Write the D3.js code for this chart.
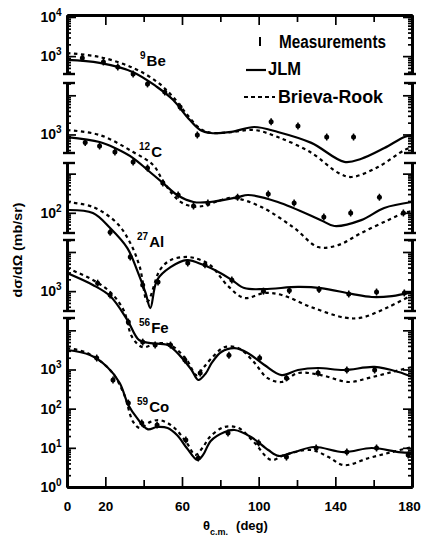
<!DOCTYPE html>
<html>
<head>
<meta charset="utf-8">
<script src="https://cdnjs.cloudflare.com/ajax/libs/d3/7.8.5/d3.min.js"></script>
<style>
  body { margin: 0; background: #fff; }
  svg { display: block; font-family: "Liberation Sans", Arial, sans-serif; font-weight: bold; }
</style>
</head>
<body>
<div id="chart"></div>
<script>
// angle in deg (c.m.), cross section in mb/sr; each nucleus is drawn shifted by 10^shift
const nuclei = ["Be", "C", "Al", "Fe", "Co"];
const massNumbers = ["9", "12", "27", "56", "59"];
const decadeShift = [8, 6, 5, 2, 0];
const axisLabels = [[1e3, 1e4], [1e3], [1e2], [1e3], [1, 10, 100, 1000]];
const xLabels = [0, 20, 60, 100, 140, 180];
const xMinor = [40, 80, 120, 160];

// 9Be
const beJlmDeg = [0, 17, 34.5, 47, 55.4, 62.7, 69.5, 75, 85.7, 97.7, 110, 127.5, 144.7, 153.6, 165.6, 176, 180];
const beJlmVal = [800, 670, 390, 163, 76, 28, 13, 10.9, 11.6, 15.5, 11.6, 6.1, 2.0, 2.4, 4.5, 8.6, 9.7];
const beBrDeg = [0, 17, 34.5, 47, 55.4, 62.7, 69.5, 75, 85.7, 97.7, 110, 127.5, 141.6, 148.4, 162.5, 176, 180];
const beBrVal = [1200, 950, 500, 220, 90, 32, 14, 11, 11.5, 13, 8.6, 3.4, 1.04, 0.82, 1.5, 4.0, 4.8];
const beExpDeg = [8, 19, 26.5, 34.5, 42, 51, 59, 68, 106.5, 120.5, 135.5, 149.5];
const beExpVal = [900, 710, 530, 350, 195, 121, 50, 9.7, 21, 16.4, 8.6, 8.6];

// 12C
const cJlmDeg = [0, 17, 25, 34.5, 42, 50, 57.5, 66, 74.5, 89, 94.5, 110, 132.5, 139.5, 153.5, 165.5, 180];
const cJlmVal = [860, 640, 450, 250, 124, 58, 28.5, 18.9, 18.9, 25, 28.5, 18.9, 6.5, 4.6, 6.5, 13.3, 18.9];
const cBrDeg = [0, 17, 34.5, 45, 50, 55, 60, 66, 72, 80, 87, 101.5, 118.5, 131, 141.5, 153.5, 167.5, 176, 180];
const cBrVal = [1300, 970, 357, 165, 66, 30, 18, 14.5, 15.2, 21, 24, 14, 4.1, 1.34, 1.5, 3.05, 6.5, 9.9, 11.1];
const cExpDeg = [9.5, 17, 25, 34.5, 42, 50, 58, 66, 73.5, 89, 105, 118.5, 134, 148, 163, 175.5];
const cExpVal = [620, 508, 357, 198, 139, 58, 28.5, 14.9, 17.8, 25, 30, 17.8, 7.8, 9.9, 25, 9.9];

// 27Al
const alJlmDeg = [0, 13.5, 22.5, 31.5, 36.5, 41, 43.5, 47, 54, 62.5, 71, 80, 86, 92.5, 103, 120.5, 132.5, 148.5, 159, 169.5, 180];
const alJlmVal = [118, 99, 41, 12.6, 3.5, 0.9, 0.37, 1.93, 4.1, 6.2, 4.7, 2.9, 1.93, 1.2, 1.13, 1.28, 1.2, 0.85, 0.71, 0.75, 0.95];
const alBrDeg = [0, 13.5, 26, 33, 38, 42, 48.5, 54, 60.5, 66, 74.5, 84, 92.5, 103, 112, 127.5, 145, 153.5, 167.5, 180];
const alBrVal = [189, 141, 55, 17, 4.1, 0.55, 3.5, 6.2, 7.4, 7.1, 4.7, 1.35, 0.67, 0.9, 0.8, 0.39, 0.21, 0.21, 0.39, 0.8];
const alExpDeg = [22.5, 33, 39.5, 47.5, 63, 72, 86, 102.5, 116, 131.5, 147, 161.5, 176];
const alExpVal = [32, 7.4, 1.44, 1.71, 5.2, 4.7, 1.93, 1.0, 1.04, 1.1, 0.85, 0.95, 0.9];

// 56Fe
const feJlmDeg = [0, 13.5, 22.5, 31.5, 37.5, 43.5, 52.5, 59.5, 65, 68.5, 72.5, 75.5, 80.5, 87.5, 94.5, 103, 112, 120.5, 131, 144.5, 160.5, 173, 180];
const feJlmVal = [2900, 1440, 750, 183, 57, 47, 42, 21, 9.7, 5.4, 8.1, 14.7, 28, 35, 26, 13, 7.2, 9.7, 10.9, 9.7, 11.6, 8.6, 6.4];
const feBrDeg = [0, 13.5, 22.5, 29.5, 34, 39.5, 47, 54, 62.5, 67.5, 71, 75.5, 82, 89.5, 97.5, 104.5, 112, 120.5, 132.5, 147, 157.5, 169.5, 180];
const feBrVal = [3900, 1930, 950, 330, 67, 37, 47, 42, 17.5, 7.2, 10.9, 19.6, 37, 35, 15.5, 6.1, 4.8, 8.1, 7.2, 4.8, 6.1, 8.6, 11.6];
const feExpDeg = [16, 22.5, 32, 39.5, 46, 54, 61.5, 69.5, 84.5, 100.5, 114.5, 131, 146, 160.5];
const feExpVal = [1600, 800, 163, 50, 42, 42, 17.5, 8.1, 23, 19.6, 6.1, 8.1, 9.7, 9.7];

// 59Co
const coJlmDeg = [0, 12, 21, 27.5, 32, 36.5, 42, 47, 52.5, 57.5, 62.5, 68, 71, 75, 82, 87.5, 96, 105, 110.5, 118.5, 129, 144.5, 159, 173, 180];
const coJlmVal = [3150, 2340, 1160, 452, 124, 58, 30, 34, 32, 21, 9.9, 4.9, 6.6, 15, 25, 28.5, 18.9, 8.8, 6.2, 7.8, 10.5, 7.8, 9.9, 7.8, 7.4];
const coBrDeg = [0, 10.5, 22.5, 29.5, 34.5, 38, 43.5, 48.5, 55.5, 62.5, 67, 71, 74.5, 82, 89.5, 97.5, 106.5, 113.5, 127.5, 136.5, 144.5, 157.5, 169.5, 180];
const coBrVal = [3540, 2640, 970, 251, 46, 32, 46, 51, 34, 13.3, 6.6, 10.5, 18.9, 34, 32, 14.1, 4.9, 6.6, 8.8, 5.8, 3.6, 5.5, 7.8, 10.5];
const coExpDeg = [15.5, 24, 32, 39, 47, 62, 68.5, 84, 100, 114.5, 130, 146, 161.5, 178];
const coExpVal = [1960, 540, 139, 43, 38, 15.9, 5.5, 24, 13.3, 5.8, 9.9, 7.8, 9.9, 6.6];

const jlm = [[beJlmDeg, beJlmVal], [cJlmDeg, cJlmVal], [alJlmDeg, alJlmVal], [feJlmDeg, feJlmVal], [coJlmDeg, coJlmVal]];
const brieva = [[beBrDeg, beBrVal], [cBrDeg, cBrVal], [alBrDeg, alBrVal], [feBrDeg, feBrVal], [coBrDeg, coBrVal]];
const meas = [[beExpDeg, beExpVal], [cExpDeg, cExpVal], [alExpDeg, alExpVal], [feExpDeg, feExpVal], [coExpDeg, coExpVal]];

// layout
const W = 422, H = 536;
const plotLeft = 67, plotRight = 412, plotTop = 15, plotBottom = 487;
const decades = 12.05;
// broken vertical axis: one piece per nucleus
const segments = [[15, 74], [83, 153], [163, 233], [240, 311], [318, 487]];
const labelPos = [[140, 66], [139, 157], [137, 247], [139, 333], [137, 412]];

const svg = d3.select("#chart").append("svg")
    .attr("width", W)
    .attr("height", H);

const x = d3.scaleLinear().domain([0, 180]).range([plotLeft, plotRight]);
const yScales = decadeShift.map(s => d3.scaleLog()
    .domain([Math.pow(10, -s), Math.pow(10, decades - s)])
    .range([plotBottom, plotTop]));

svg.append("clipPath").attr("id", "clip")
  .append("rect")
    .attr("x", plotLeft).attr("y", plotTop)
    .attr("width", plotRight - plotLeft).attr("height", plotBottom - plotTop);

const plot = svg.append("g").attr("clip-path", "url(#clip)");

nuclei.forEach((n, i) => {
    const y = yScales[i];
    const line = d3.line()
        .x(d => x(d[0]))
        .y(d => y(d[1]))
        .curve(d3.curveCatmullRom.alpha(0.5));

    plot.append("path")
        .datum(d3.zip(jlm[i][0], jlm[i][1]))
        .attr("d", line)
        .attr("fill", "none")
        .attr("stroke", "#000")
        .attr("stroke-width", 2.2);

    plot.append("path")
        .datum(d3.zip(brieva[i][0], brieva[i][1]))
        .attr("d", line)
        .attr("fill", "none")
        .attr("stroke", "#000")
        .attr("stroke-width", 2.2)
        .attr("stroke-dasharray", "3.5,3.5");

    const pts = plot.append("g").selectAll("g")
        .data(d3.zip(meas[i][0], meas[i][1]))
        .join("g")
        .attr("transform", d => `translate(${x(d[0])},${y(d[1])})`);
    pts.append("circle").attr("r", 2.5).attr("fill", "#000");
    pts.append("line")
        .attr("y1", -3.5).attr("y2", 3.5)
        .attr("stroke", "#000").attr("stroke-width", 1.5);

    // nucleus label
    const [lx, ly] = labelPos[i];
    const t = svg.append("text")
        .attr("x", lx).attr("y", ly)
        .style("font-size", "15px");
    t.append("tspan").attr("dy", "-7").style("font-size", "10px").text(massNumbers[i]);
    t.append("tspan").attr("dy", "7").attr("dx", "1").text(n);
});

// vertical axes, broken into pieces
const isMajor = v => Math.abs(Math.log10(v) - Math.round(Math.log10(v))) < 1e-6;
nuclei.forEach((n, i) => {
    const y = yScales[i];
    const [t, b] = segments[i];
    const sub = y.copy().domain([y.invert(b), y.invert(t)]).range([b, t]);
    const ticks = sub.ticks();
    const major = ticks.filter(isMajor);
    const minor = ticks.filter(v => !isMajor(v));

    [[plotLeft, d3.axisRight, 1], [plotRight, d3.axisLeft, -1]].forEach(([ax, gen, dir]) => {
        const g = svg.append("g").attr("transform", `translate(${ax},0)`);
        g.call(gen(sub).tickValues(minor).tickSize(4).tickSizeOuter(0).tickFormat(""));
        g.append("g").call(gen(sub).tickValues(major).tickSize(9).tickSizeOuter(0).tickFormat(""));
        g.selectAll("path.domain").attr("stroke", "#000").attr("stroke-width", 2.8);
        g.selectAll("line").attr("stroke", "#000").attr("stroke-width", 1.7);
        // end caps at the breaks
        [t, b].forEach(yy => {
            if (yy === plotTop || yy === plotBottom) return;
            g.append("line")
                .attr("x1", -4 * dir).attr("x2", 8 * dir)
                .attr("y1", yy).attr("y2", yy)
                .attr("stroke", "#000").attr("stroke-width", 2.4);
        });
    });

    // decade labels on the left
    axisLabels[i].forEach(v => {
        const yy = y(v);
        svg.append("text")
            .attr("x", 56).attr("y", yy + 5)
            .attr("text-anchor", "end")
            .style("font-size", "14px")
            .text("10");
        svg.append("text")
            .attr("x", 56).attr("y", yy - 1)
            .style("font-size", "10px")
            .text(Math.round(Math.log10(v)));
    });
});

// bottom axis
const xb = svg.append("g").attr("transform", `translate(0,${plotBottom})`);
xb.call(d3.axisBottom(x).tickValues(xLabels).tickSize(-10).tickSizeOuter(0).tickPadding(14).tickFormat(d3.format("d")));
xb.append("g").call(d3.axisBottom(x).tickValues(xMinor).tickSize(-7).tickSizeOuter(0).tickFormat(""));
xb.selectAll("text").style("font-size", "13.5px").style("font-weight", "bold")
    .attr("font-family", "Liberation Sans, Arial, sans-serif").attr("fill", "#000");
// keep the last label inside the window
xb.selectAll("text").filter(d => d === 180).attr("dx", -3);

// top axis
const xt = svg.append("g").attr("transform", `translate(0,${plotTop})`);
xt.call(d3.axisBottom(x).tickValues(xLabels).tickSize(10).tickSizeOuter(0).tickFormat(""));
xt.append("g").call(d3.axisBottom(x).tickValues(xMinor).tickSize(7).tickSizeOuter(0).tickFormat(""));

[xb, xt].forEach(g => {
    g.selectAll("path.domain").attr("stroke", "#000").attr("stroke-width", 2.8);
    g.selectAll("line").attr("stroke", "#000").attr("stroke-width", 1.7);
});

// legend
const lg = svg.append("g");
lg.append("line").attr("x1", 260).attr("x2", 260).attr("y1", 37).attr("y2", 46)
    .attr("stroke", "#000").attr("stroke-width", 2);
lg.append("text").attr("x", 279).attr("y", 48).style("font-size", "18px")
    .attr("textLength", 107).attr("lengthAdjust", "spacingAndGlyphs").text("Measurements");
lg.append("line").attr("x1", 246).attr("x2", 266).attr("y1", 70).attr("y2", 70)
    .attr("stroke", "#000").attr("stroke-width", 2.2);
lg.append("text").attr("x", 268).attr("y", 75).style("font-size", "18px")
    .attr("textLength", 33).attr("lengthAdjust", "spacingAndGlyphs").text("JLM");
lg.append("line").attr("x1", 244).attr("x2", 275).attr("y1", 97).attr("y2", 97)
    .attr("stroke", "#000").attr("stroke-width", 2.2).attr("stroke-dasharray", "4,3");
lg.append("text").attr("x", 278).attr("y", 103).style("font-size", "18px")
    .attr("textLength", 105).attr("lengthAdjust", "spacingAndGlyphs").text("Brieva-Rook");

// axis titles
svg.append("text")
    .attr("transform", "translate(22,250) rotate(-90)")
    .attr("text-anchor", "middle")
    .style("font-size", "12px")
    .attr("textLength", 95).attr("lengthAdjust", "spacingAndGlyphs")
    .text("dσ/dΩ (mb/sr)");

const xt2 = svg.append("text").attr("x", 203).attr("y", 530).style("font-size", "13px");
xt2.append("tspan").text("θ");
xt2.append("tspan").attr("dy", 5).style("font-size", "9px").text("c.m.");
xt2.append("tspan").attr("dy", -5).attr("dx", 8).text("(deg)");
</script>
</body>
</html>
